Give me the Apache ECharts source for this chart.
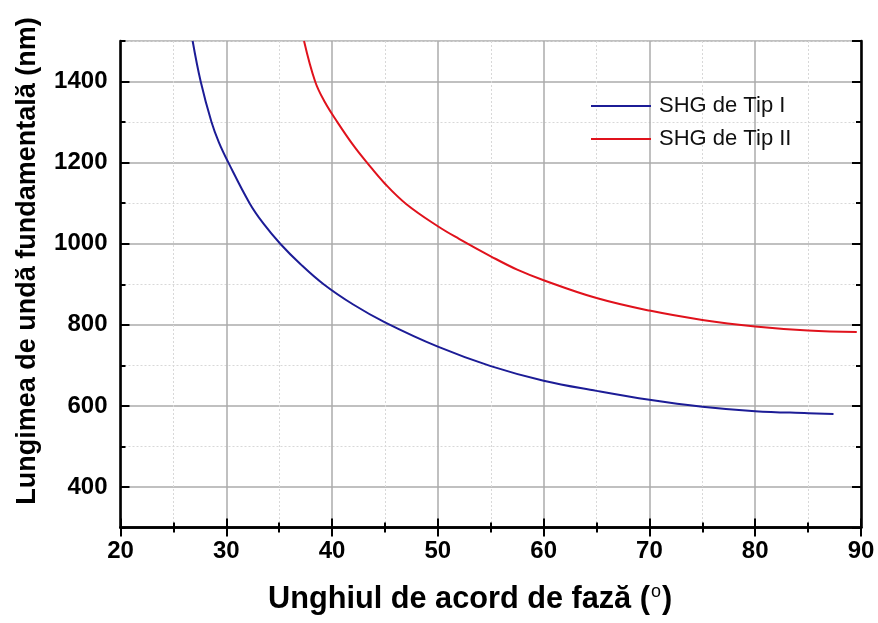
<!DOCTYPE html>
<html>
<head>
<meta charset="utf-8">
<script src="https://cdn.jsdelivr.net/npm/echarts@6/dist/echarts.min.js"></script>
<style>html,body{margin:0;padding:0;background:#fff}#c{width:878px;height:623px}</style>
</head>
<body>
<div id="c"></div>
<script>
// Data
const seriesNames = ['SHG de Tip I', 'SHG de Tip II'];
const thetaTip1 = [26.82, 27.58, 28.6, 29.3, 30.2, 32.2, 33.5, 35.1, 37.0, 39.2, 42.0, 45, 50, 55, 60, 65, 70, 75, 80, 85, 87.4];
const lambdaTip1 = [1500, 1400, 1300, 1250, 1200, 1100, 1050, 1000, 950, 900, 850, 806, 746, 698, 662, 637, 615, 598, 587, 582, 580];
const thetaTip2 = [37.35, 38.4, 39.3, 40.5, 42, 43.3, 45, 47, 50, 52, 55, 57.5, 60, 65, 70, 75, 80, 85, 89.6];
const lambdaTip2 = [1500, 1400, 1350, 1300, 1243, 1200, 1148, 1098, 1043, 1012, 969, 936, 910, 866, 835, 812, 796, 786, 782];
const xTitle = 'Unghiul de acord de fază (';
const yTitle = 'Lungimea de undă fundamentală (nm)';

const FONT = '"Liberation Sans", Arial, sans-serif';
const chart = echarts.init(document.getElementById('c'), null, {renderer: 'canvas'});

const axisLine = {show: true, lineStyle: {color: '#000', width: 2.6}};
const majorTick = {show: true, inside: true, length: 9, lineStyle: {color: '#000', width: 2}};
const minorTickStyle = {show: true, length: 5, lineStyle: {color: '#000', width: 2}};
const majorGrid = {show: true, lineStyle: {color: '#ababab', width: 1.5, type: 'solid'}};
const minorGrid = {show: true, lineStyle: {color: '#d8d8d8', width: 1, type: [2, 2]}};
const labelStyle = {color: '#000', fontFamily: FONT, fontWeight: 'bold', fontSize: 24, formatter: v => String(v)};

function pairs(xs, ys) { return xs.map((x, i) => [x, ys[i]]); }

const option = {
  animation: false,
  backgroundColor: '#fff',
  grid: {left: 120.5, right: 17, top: 41, bottom: 95.5, containLabel: false},
  xAxis: [
    {type: 'value', position: 'bottom', min: 20, max: 90, interval: 10,
     axisLine: axisLine, axisTick: majorTick,
     minorTick: Object.assign({splitNumber: 2}, minorTickStyle),
     splitLine: majorGrid, minorSplitLine: minorGrid,
     axisLabel: Object.assign({margin: 12}, labelStyle)},
    {type: 'value', position: 'top', min: 20, max: 90, interval: 10,
     axisLine: axisLine, axisTick: majorTick,
     minorTick: Object.assign({splitNumber: 2}, minorTickStyle),
     splitLine: {show: false}, axisLabel: {show: false}}
  ],
  yAxis: [
    {type: 'value', position: 'left', min: 300, max: 1500, splitNumber: 6,
     axisLine: axisLine, axisTick: majorTick, splitLine: majorGrid,
     axisLabel: Object.assign({margin: 13, showMinLabel: false, showMaxLabel: false}, labelStyle)},
    {type: 'value', position: 'left', min: 0, max: 1200, interval: 200,
     axisLine: {show: false}, axisTick: Object.assign({inside: true}, minorTickStyle),
     splitLine: minorGrid, axisLabel: {show: false}},
    {type: 'value', position: 'right', min: 300, max: 1500, splitNumber: 6,
     axisLine: axisLine, axisTick: majorTick, splitLine: {show: false},
     axisLabel: {show: false}},
    {type: 'value', position: 'right', min: 0, max: 1200, interval: 200,
     axisLine: {show: false}, axisTick: Object.assign({inside: true}, minorTickStyle),
     splitLine: {show: false}, axisLabel: {show: false}}
  ],
  legend: {
    orient: 'vertical', left: 591, top: 95, padding: 0,
    icon: 'rect', itemWidth: 60, itemHeight: 2, itemGap: 11,
    data: seriesNames,
    textStyle: {fontFamily: FONT, fontSize: 22, color: '#111', padding: [0, 0, 0, 3]}
  },
  series: [
    {name: seriesNames[0], type: 'line', xAxisIndex: 0, yAxisIndex: 0,
     data: pairs(thetaTip1, lambdaTip1), smooth: 0.4,
     symbol: 'none', showSymbol: false, clip: true,
     lineStyle: {color: '#1c1c96', width: 2}, itemStyle: {color: '#1c1c96'}},
    {name: seriesNames[1], type: 'line', xAxisIndex: 0, yAxisIndex: 0,
     data: pairs(thetaTip2, lambdaTip2), smooth: 0.4,
     symbol: 'none', showSymbol: false, clip: true,
     lineStyle: {color: '#e0121c', width: 2}, itemStyle: {color: '#e0121c'}}
  ],
  graphic: [
    {type: 'text', left: 268, top: 583,
     style: {
       text: '{t|' + xTitle + '}{s|o}{t|)}',
       rich: {
         t: {fontFamily: FONT, fontWeight: 'bold', fontSize: 30.7, fill: '#000', verticalAlign: 'bottom'},
         s: {fontFamily: FONT, fontWeight: 'normal', fontSize: 18, fill: '#000', verticalAlign: 'top', padding: [0, 1, 14, 1]}
       }
     }},
    {type: 'text', x: 28, y: 261, rotation: Math.PI / 2,
     style: {text: yTitle, fontFamily: FONT, fontWeight: 'bold', fontSize: 27, fill: '#000',
             align: 'center', verticalAlign: 'middle'}}
  ]
};
chart.setOption(option);
</script>
</body>
</html>
